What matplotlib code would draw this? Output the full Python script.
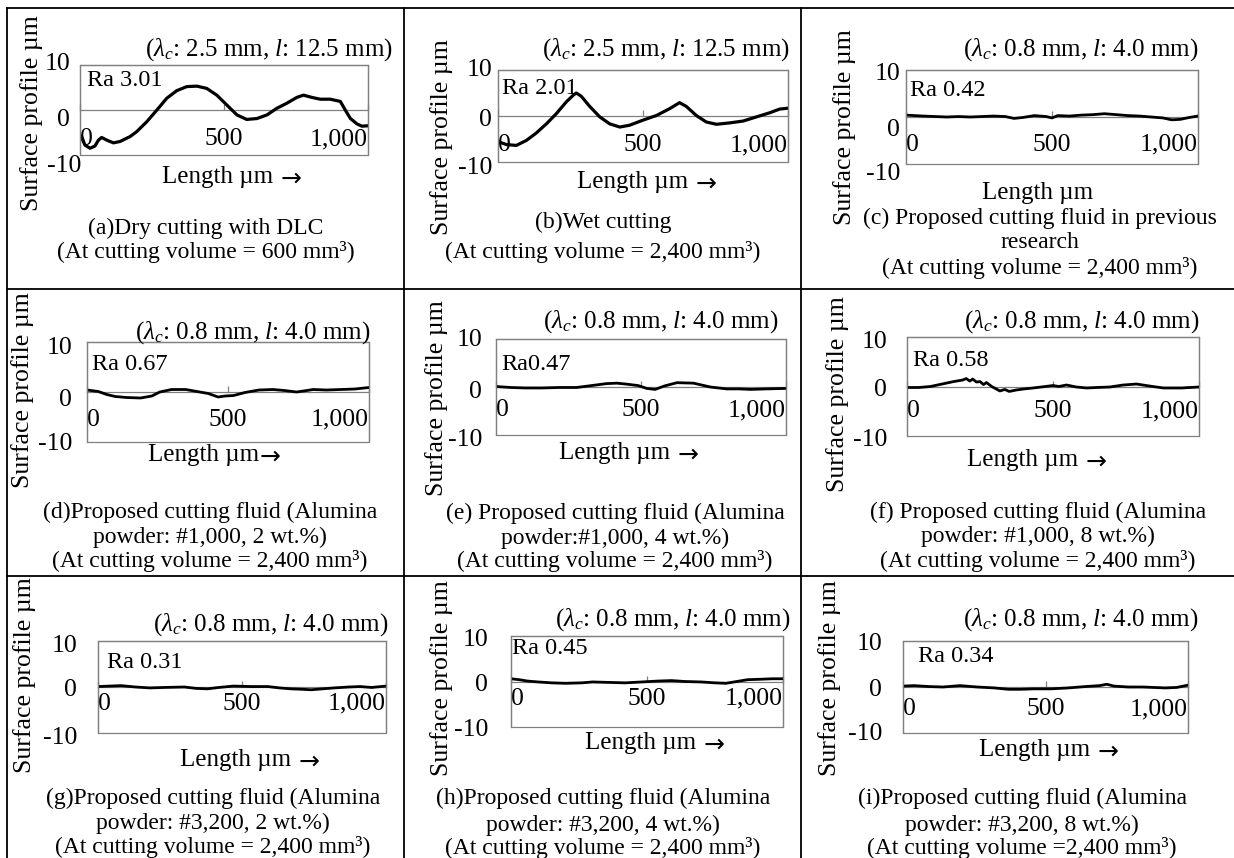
import matplotlib
matplotlib.use("Agg")
import matplotlib.pyplot as plt
from matplotlib.lines import Line2D
from matplotlib.patches import Rectangle
from matplotlib.transforms import ScaledTranslation

plt.rcParams['font.family'] = ['Liberation Serif', 'DejaVu Serif']
plt.rcParams['mathtext.fontset'] = 'custom'
plt.rcParams['mathtext.rm'] = 'Liberation Serif'
plt.rcParams['mathtext.it'] = 'Liberation Serif:italic'

# ---------------- data (profile traces) ----------------
a_x = [6, 17, 35, 52, 64, 75, 93, 116, 139, 174, 197, 232, 267, 301, 336, 371, 406, 440, 475, 510,
       545, 579, 614, 649, 684, 718, 753, 776, 805, 834, 869, 904, 921, 939, 962, 979, 1000]
a_y = [-5.9, -7.8, -8.5, -8.0, -6.7, -6.1, -6.7, -7.3, -7.0, -5.9, -4.8, -2.6, 0.0, 2.6, 4.3, 5.2, 5.3,
       4.8, 3.3, 1.1, -1.1, -2.1, -1.9, -1.1, 0.4, 1.5, 2.8, 3.3, 2.8, 2.4, 2.4, 1.9, 0.0, -1.9, -3.1,
       -3.6, -3.5]

b_x = [6, 29, 63, 98, 132, 167, 201, 236, 259, 270, 287, 316, 351, 385, 420, 454, 500, 546, 592, 626,
       649, 684, 718, 753, 799, 845, 891, 937, 971, 1000]
b_y = [-5.7, -6.2, -6.4, -5.3, -3.7, -1.7, 0.5, 3.1, 4.5, 5.0, 4.3, 2.1, -0.2, -1.7, -2.4, -2.0, -0.9,
       0.1, 1.6, 2.9, 2.1, 0.1, -1.3, -1.8, -1.5, -1.1, -0.2, 0.7, 1.5, 1.7]

c_x = [0, 30, 60, 100, 140, 180, 220, 260, 300, 340, 370, 400, 440, 480, 500, 520, 560, 600, 640, 680,
       720, 760, 800, 840, 880, 910, 940, 970, 1000]
c_y = [0.4, 0.3, 0.2, 0.1, 0.0, 0.1, 0.0, 0.1, 0.2, 0.1, -0.3, -0.1, 0.3, 0.1, -0.2, 0.3, 0.2, 0.4, 0.5,
       0.7, 0.5, 0.3, 0.2, 0.0, -0.2, -0.6, -0.5, -0.1, 0.2]

d_x = [0, 40, 70, 100, 140, 190, 230, 258, 300, 350, 400, 430, 465, 490, 520, 560, 610, 660, 700, 743,
       780, 802, 850, 900, 950, 1000]
d_y = [0.4, 0.1, -0.5, -0.9, -1.1, -1.2, -0.8, 0.0, 0.5, 0.5, 0.0, -0.3, -1.0, -0.8, -0.7, -0.1, 0.4,
       0.5, 0.3, 0.0, 0.3, 0.5, 0.4, 0.5, 0.6, 0.9]

e_x = [0, 50, 100, 160, 220, 278, 330, 380, 417, 450, 490, 520, 549, 580, 624, 681, 739, 796, 840, 877,
       930, 1000]
e_y = [0.1, -0.1, -0.2, -0.2, -0.1, -0.1, 0.3, 0.7, 0.8, 0.6, 0.3, -0.3, -0.5, 0.2, 0.9, 0.8, 0.0, -0.4,
       -0.4, -0.5, -0.4, -0.3]

f_x = [0, 40, 80, 120, 160, 190, 203, 215, 225, 238, 250, 262, 272, 290, 318, 335, 350, 375, 400, 432,
       460, 500, 520, 546, 580, 615, 650, 695, 740, 786, 830, 878, 940, 1000]
f_y = [-0.2, -0.2, 0.0, 0.5, 1.0, 1.3, 1.6, 1.1, 1.5, 0.9, 1.0, 0.4, 0.8, 0.0, -0.9, -0.6, -1.0, -0.7,
       -0.5, -0.3, -0.1, 0.2, 0.0, 0.3, -0.1, -0.3, -0.2, -0.1, 0.3, 0.5, 0.1, -0.3, -0.3, -0.1]

g_x = [0, 40, 80, 130, 180, 230, 300, 340, 380, 420, 470, 530, 590, 630, 670, 710, 740, 780, 820, 870,
       910, 950, 1000]
g_y = [0.1, 0.2, 0.3, 0.0, -0.2, -0.1, 0.0, -0.3, -0.4, -0.1, 0.2, 0.1, 0.1, -0.2, -0.4, -0.5, -0.6,
       -0.4, -0.2, 0.0, 0.1, -0.1, 0.2]

h_x = [0, 30, 60, 100, 150, 200, 260, 300, 360, 420, 480, 540, 590, 640, 700, 750, 790, 830, 870, 920,
       960, 1000]
h_y = [0.6, 0.4, 0.1, -0.1, -0.3, -0.4, -0.3, -0.1, -0.2, -0.3, -0.1, 0.1, 0.2, 0.0, -0.1, -0.3, -0.4,
       0.0, 0.4, 0.5, 0.6, 0.6]

i_x = [0, 40, 90, 140, 200, 260, 320, 370, 410, 460, 520, 580, 640, 690, 715, 740, 790, 840, 880, 920,
       960, 1000]
i_y = [0.2, 0.3, 0.1, 0.0, 0.3, 0.0, -0.2, -0.5, -0.5, -0.4, -0.4, -0.2, 0.1, 0.3, 0.6, 0.2, 0.0, 0.0,
       -0.1, -0.2, -0.1, 0.4]

ra_labels = ["Ra 3.01", "Ra 2.01", "Ra 0.42", "Ra 0.67", "Ra0.47", "Ra 0.58", "Ra 0.31", "Ra 0.45", "Ra 0.34"]
cond_long = r"($\lambda_c$: 2.5 mm, $l$: 12.5 mm)"
cond_short = r"($\lambda_c$: 0.8 mm, $l$: 4.0 mm)"
x_ticks = [0, 500, 1000]
x_tick_labels = ["0", "500", "1,000"]
y_ticks = [-10, 0, 10]
y_tick_labels = ["-10", "0", "10"]
y_label = "Surface profile µm"
x_label = "Length µm"
arrow_gap = [5, 5, None, 0.5, 5, 5, 5, 5, 5]   # None: no arrow; else gap (pt) before the arrow
vol24 = "(At cutting volume = 2,400 mm³)"
captions = [
    ["(a)Dry cutting with DLC", "(At cutting volume = 600 mm³)"],
    ["(b)Wet cutting", vol24],
    ["(c) Proposed cutting fluid in previous", "research", vol24],
    ["(d)Proposed cutting fluid (Alumina", "powder: #1,000, 2 wt.%)", vol24],
    ["(e) Proposed cutting fluid (Alumina", "powder:#1,000, 4 wt.%)", vol24],
    ["(f) Proposed cutting fluid (Alumina", "powder: #1,000, 8 wt.%)", vol24],
    ["(g)Proposed cutting fluid (Alumina", "powder: #3,200, 2 wt.%)", vol24],
    ["(h)Proposed cutting fluid (Alumina", "powder: #3,200, 4 wt.%)", vol24],
    ["(i)Proposed cutting fluid (Alumina", "powder: #3,200, 8 wt.%)", "(At cutting volume =2,400 mm³)"],
]
conds = [cond_long, cond_long] + [cond_short] * 7
series = [(a_x, a_y), (b_x, b_y), (c_x, c_y), (d_x, d_y), (e_x, e_y), (f_x, f_y),
          (g_x, g_y), (h_x, h_y), (i_x, i_y)]

# ---------------- layout (pixel positions in the 1234x858 canvas) ----------------
W, H = 1234, 858
layout = [
    # axes box (x0,y0,x1,y1), title (xr,y), Ra (x,y), ylabel (x,y), xlabel (left x,y), caption (xc, ys),
    # x tick pad (pt), y tick pad (pt), y tick label shifts (dx,dy px) for -10, 0, 10
    dict(box=(80, 65, 368, 155), title=(393, 50), ra=(87, 80), yl=(32, 113), xl=(162, 177), cap=(206, [228, 252]),
         pad=13, ypad=7, ysh=[(11, 8), (0, 7), (0, -3)]),
    dict(box=(498, 70, 788, 162), title=(790, 50), ra=(502, 88), yl=(442, 137), xl=(577, 182), cap=(603, [222, 252]),
         pad=13, ypad=4.3, ysh=[(0, 3), (0, 1), (0, -2)]),
    dict(box=(906, 70, 1198, 164), title=(1198, 50), ra=(910, 90), yl=(845, 127), xl=(982, 193), cap=(1040, [218, 243, 268]),
         pad=12, ypad=4.3, ysh=[(0, 8), (0, 10), (0, 2)]),
    dict(box=(87, 342, 369, 442), title=(370, 333), ra=(92, 364), yl=(23, 390), xl=(148, 455), cap=(210, [512, 537, 561]),
         pad=12, ypad=10.8, ysh=[(0, 0), (0, 5), (0, 3)]),
    dict(box=(496, 339, 786, 435), title=(778, 322), ra=(501, 364), yl=(437, 398), xl=(559, 453), cap=(615, [513, 538, 561]),
         pad=9, ypad=10, ysh=[(0, 2), (0, 2), (0, -1)]),
    dict(box=(907, 337, 1199, 436), title=(1199, 322), ra=(913, 360), yl=(838, 394), xl=(967, 460), cap=(1038, [512, 536, 561]),
         pad=10, ypad=14.4, ysh=[(0, 1), (0, 1), (0, 2)]),
    dict(box=(98, 641, 386, 733), title=(388, 625), ra=(107, 662), yl=(25, 675), xl=(180, 760), cap=(213, [798, 823, 847]),
         pad=4, ypad=15, ysh=[(0, 2), (0, 1), (0, 2)]),
    dict(box=(511, 636, 783, 727), title=(790, 620), ra=(512, 649), yl=(442, 678), xl=(585, 743), cap=(603, [798, 825, 848]),
         pad=4.5, ypad=16.5, ysh=[(0, 0), (0, 1), (0, 1)]),
    dict(box=(903, 641, 1188, 733), title=(1198, 620), ra=(918, 657), yl=(830, 678), xl=(979, 750), cap=(1022, [798, 825, 848]),
         pad=8, ypad=15, ysh=[(0, -1), (0, 0), (0, 1)]),
]

FS = 18        # chart text
FS_TICK = 18.5
FS_RA = 17.5
FS_YL = 18.5
FS_CAP = 17
GRAY = "#808080"

fig = plt.figure(figsize=(W / 100, H / 100), dpi=100)


def fx(x):
    return x / W


def fy(y):
    return 1 - y / H


for k, (lay, (xs, ys)) in enumerate(zip(layout, series)):
    x0, y0, x1, y1 = lay["box"]
    ax = fig.add_axes([fx(x0), fy(y1), (x1 - x0) / W, (y1 - y0) / H])
    ax.plot(xs, ys, color="black", lw=2.3 if k < 2 else 2.0, solid_joinstyle="round", zorder=3)
    ax.set_xlim(0, 1000)
    ax.set_ylim(-10, 10)
    for s in ["top", "left", "right"]:
        ax.spines[s].set_color(GRAY)
        ax.spines[s].set_linewidth(0.9)
    ax.spines["bottom"].set_position(("data", 0))
    ax.spines["bottom"].set_color(GRAY)
    ax.spines["bottom"].set_linewidth(0.9)
    ax.add_patch(Rectangle((0, 0), 1, 1, transform=ax.transAxes, fill=False,
                           edgecolor=GRAY, lw=0.9, clip_on=False, zorder=4))
    ax.set_xticks(x_ticks, labels=x_tick_labels)
    ax.tick_params(axis="x", direction="in", length=4, width=0.9, color=GRAY,
                   labelsize=FS_TICK, pad=lay["pad"])
    tl = ax.get_xticklabels()
    tl[0].set_ha("left")
    tl[-1].set_ha("right")
    ax.set_yticks(y_ticks, labels=y_tick_labels)
    ax.tick_params(axis="y", length=0, labelsize=FS_TICK, pad=lay["ypad"])
    for lab, (dx, dy) in zip(ax.get_yticklabels(), lay["ysh"]):
        lab.set_transform(lab.get_transform() + ScaledTranslation(dx / 100, -dy / 100, fig.dpi_scale_trans))

    tx, ty = lay["title"]
    fig.text(fx(tx), fy(ty), conds[k], ha="right", va="center", fontsize=FS)
    rx, ry = lay["ra"]
    fig.text(fx(rx), fy(ry), ra_labels[k], ha="left", va="center", fontsize=FS_RA)
    lx, ly = lay["yl"]
    fig.text(fx(lx), fy(ly), y_label, ha="center", va="center", rotation=90, fontsize=FS_YL)
    xx, xy = lay["xl"]
    t = fig.text(fx(xx), fy(xy), x_label, ha="left", va="center", fontsize=FS)
    if arrow_gap[k] is not None:
        ax.annotate("→", xy=(1, 0.42), xycoords=t, xytext=(arrow_gap[k], 0),
                    textcoords="offset points", ha="left", va="center",
                    fontsize=FS, family="DejaVu Sans", annotation_clip=False)
    cx, cys = lay["cap"]
    for line, cy in zip(captions[k], cys):
        fig.text(fx(cx), fy(cy), line, ha="center", va="center", fontsize=FS_CAP)

# table grid lines
for xv in [7, 404, 801]:
    fig.add_artist(Line2D([fx(xv), fx(xv)], [fy(8), 0], color="black", lw=1.3))
for yv in [8, 289, 576]:
    fig.add_artist(Line2D([fx(7), 1], [fy(yv), fy(yv)], color="black", lw=1.3))

fig.savefig("out.png", dpi=100)
